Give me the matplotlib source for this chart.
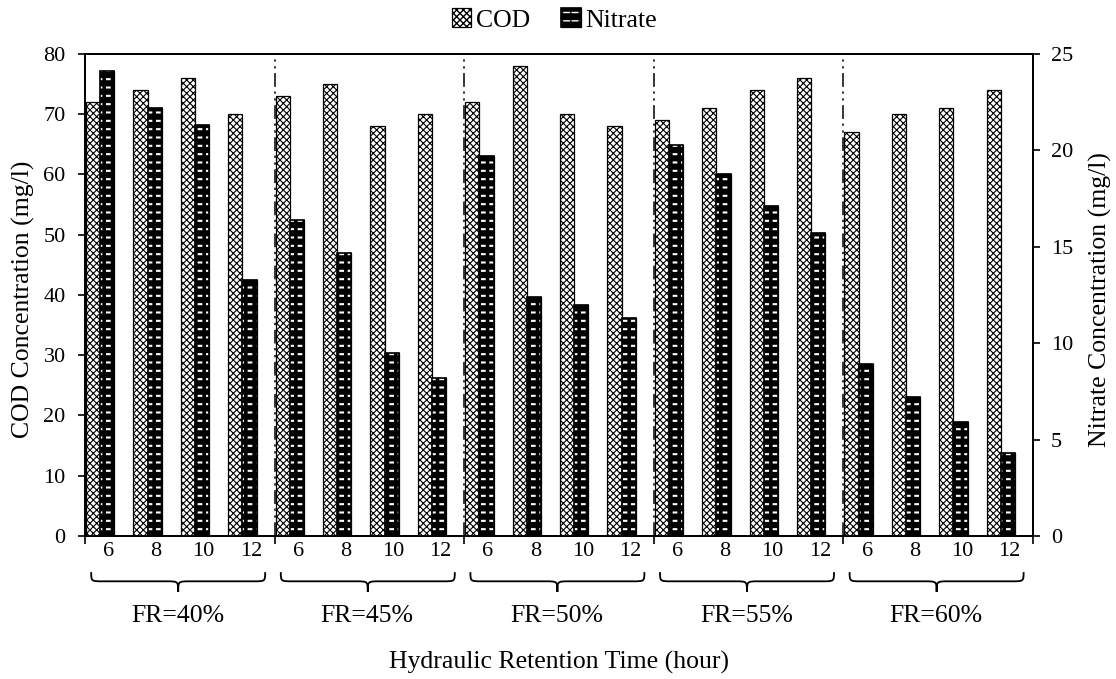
import matplotlib.pyplot as plt
from matplotlib.path import Path
from matplotlib.patches import PathPatch
from matplotlib.legend_handler import HandlerTuple
import matplotlib.transforms as mtransforms
import numpy as np

plt.rcParams['font.family'] = ['Liberation Serif', 'DejaVu Serif']

# data
hrt_labels = ['6', '8', '10', '12']
fr_labels = ['FR=40%', 'FR=45%', 'FR=50%', 'FR=55%', 'FR=60%']
cod = [72, 74, 76, 70,
       73, 75, 68, 70,
       72, 78, 70, 68,
       69, 71, 74, 76,
       67, 70, 71, 74]
nitrate = [24.1, 22.2, 21.3, 13.3,
           16.4, 14.7, 9.5, 8.2,
           19.7, 12.4, 12.0, 11.3,
           20.3, 18.8, 17.1, 15.7,
           8.9, 7.2, 5.9, 4.3]

n = len(cod)
idx = np.arange(n)
bw = 0.3

fig = plt.figure(figsize=(11.16, 6.79), dpi=100)
ax = fig.add_axes([0.0762, 0.2106, 0.8495, 0.7099])
ax2 = ax.twinx()


def make_bars(axis, x, h, **kw):
    lw_hatch = kw.pop('hatch_lw', 1.0)
    with plt.rc_context({'hatch.linewidth': lw_hatch}):
        bars = axis.bar(x, h, width=bw, **kw)
    for b in bars:
        if hasattr(b, 'set_hatch_linewidth'):
            b.set_hatch_linewidth(lw_hatch)
    return bars


# COD bars (left axis)
cod_bars = make_bars(ax, idx + 0.17, cod, facecolor='white', edgecolor='black',
                     hatch='xxxxx', linewidth=0.9, hatch_lw=0.8, zorder=3)

# Nitrate bars (right axis): black fill, white dashes in a grid
nx = idx + 0.47
n_black = make_bars(ax2, nx, nitrate, facecolor='black', edgecolor='black',
                    linewidth=0.9, zorder=3)
n_white = make_bars(ax2, nx, nitrate, facecolor='none', edgecolor='white',
                    hatch='--', linewidth=0, hatch_lw=1.5, zorder=4)
n_vert = make_bars(ax2, nx, nitrate, facecolor='none', edgecolor='black',
                   hatch='||', linewidth=0, hatch_lw=2.6, zorder=5)
n_edge = make_bars(ax2, nx, nitrate, facecolor='none', edgecolor='black',
                   linewidth=1.2, zorder=6)

# axes limits and ticks
ax.set_xlim(0, n)
ax.set_ylim(0, 80)
ax2.set_ylim(0, 25)
ax.set_yticks(np.arange(0, 81, 10))
ax2.set_yticks(np.arange(0, 26, 5))
ax.set_xticks(np.arange(0, n + 1, 4))
ax.set_xticklabels([])
ax.set_xticks(idx + 0.5, minor=True)
ax.set_xticklabels(hrt_labels * 5, minor=True)
ax.tick_params(axis='x', which='minor', length=0, labelsize=16, pad=4)
ax.tick_params(axis='x', which='major', length=6, width=1.2, direction='out')
ax.tick_params(axis='y', length=5, width=1.2, direction='out', labelsize=16, pad=9)
ax2.tick_params(axis='y', length=5, width=1.2, direction='out', labelsize=16, pad=8)

for a in (ax, ax2):
    for s in a.spines.values():
        s.set_linewidth(1.3)

# group separators
for g in range(1, 5):
    ax.axvline(4 * g, color='black', linewidth=1.1,
               dashes=(9, 3, 1.5, 3, 1.5, 3), zorder=2)

ax.set_ylabel('COD Concentration (mg/l)', fontsize=18.5)
ax.yaxis.set_label_coords(-0.053, 0.49)
ax2.set_ylabel('Nitrate Concentration (mg/l)', fontsize=18.5, rotation=90)
ax2.yaxis.set_label_coords(1.059, 0.49)

# braces under each group
trans = mtransforms.blended_transform_factory(ax.transData, ax.transAxes)
y_top, y_mid, y_tip = -0.075, -0.094, -0.116
for g in range(5):
    x0 = 4 * g + 0.13
    x1 = 4 * g + 3.8
    xm = (x0 + x1) / 2
    r = 0.25
    verts = [(x0, y_top),
             (x0, y_mid), (x0, y_mid), (x0 + r, y_mid),
             (xm - r, y_mid),
             (xm, y_mid), (xm, y_mid), (xm, y_tip),
             (xm, y_mid), (xm, y_mid), (xm + r, y_mid),
             (x1 - r, y_mid),
             (x1, y_mid), (x1, y_mid), (x1, y_top)]
    codes = [Path.MOVETO,
             Path.CURVE4, Path.CURVE4, Path.CURVE4,
             Path.LINETO,
             Path.CURVE4, Path.CURVE4, Path.CURVE4,
             Path.CURVE4, Path.CURVE4, Path.CURVE4,
             Path.LINETO,
             Path.CURVE4, Path.CURVE4, Path.CURVE4]
    ax.add_patch(PathPatch(Path(verts, codes), transform=trans, fill=False,
                           edgecolor='black', linewidth=1.3, clip_on=False))
    ax.text(4 * g + 1.95, -0.165, fr_labels[g], transform=trans,
            ha='center', va='center', fontsize=18.5)

ax.text(0.5, -0.262, 'Hydraulic Retention Time (hour)', transform=ax.transAxes,
        ha='center', va='center', fontsize=18.5)

# legend
fig.legend([cod_bars[0], (n_black[0], n_white[0], n_vert[0], n_edge[0])],
           ['COD', 'Nitrate'], loc='upper center', bbox_to_anchor=(0.497, 1.022),
           ncol=2, frameon=False, fontsize=18.5, handlelength=0.75, handleheight=0.75,
           handletextpad=0.2, columnspacing=1.2,
           handler_map={tuple: HandlerTuple(ndivide=1)})

fig.savefig('out.png', dpi=100)
